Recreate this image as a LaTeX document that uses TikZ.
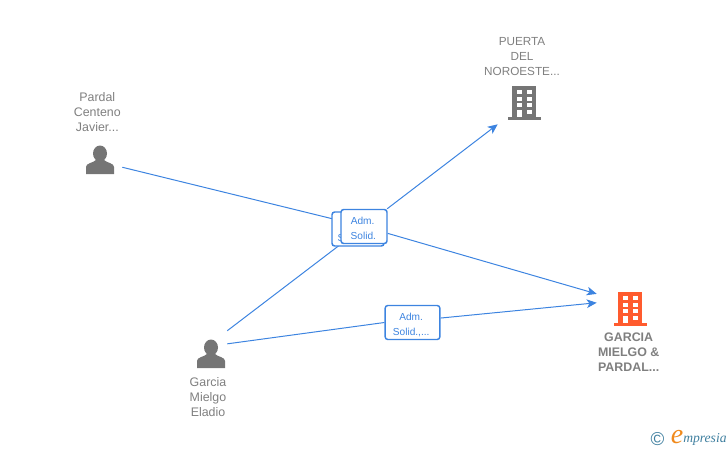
\documentclass[tikz,border=0pt]{standalone}
\usepackage{fontspec}
\setmainfont{Liberation Sans}
\newfontfamily\logofont{Liberation Serif}
\usetikzlibrary{arrows.meta, positioning}
\definecolor{linkblue}{HTML}{3D84E0}
\definecolor{labelgrey}{HTML}{7F7F7F}
\definecolor{icongrey}{HTML}{757575}
\definecolor{firmorange}{HTML}{FF5B2E}
\definecolor{logoteal}{HTML}{3F7F9F}
\definecolor{logoorange}{HTML}{F08A1D}
\pgfdeclarelayer{under}
\pgfsetlayers{under,main}
\tikzset{
  personicon/.pic={
    \fill[icongrey] (0,-6.5) ellipse (7 and 8);
    \fill[icongrey] (-14,14) -- (-14,7) .. controls (-14,3) and (-7,3) .. (-4,0) -- (4,0) .. controls (7,3) and (14,3) .. (14,7) -- (14,14) -- cycle;
  },
  towericon/.pic={
    \fill[#1] (-12,-16) rectangle (12,15);
    \fill[#1] (-16.5,14.5) rectangle (16.5,17.5);
    \foreach \rowy in {-12,-5.5,1} {
      \fill[white] (-7.5,\rowy) rectangle ++(5,4.3);
      \fill[white] (2.5,\rowy) rectangle ++(5,4.3);
    }
    \fill[white] (-7.5,7.5) rectangle (-2.5,15);
    \fill[white] (2.5,7.5) rectangle ++(5,4.3);
  }
}
\newcommand{\tagdrop}{\rule{0pt}{8.6pt}}
\begin{document}
\begin{tikzpicture}
[x=0.75pt, y=-0.75pt, >={Stealth[length=7.5pt, width=6.5pt, inset=2pt]}]
% Styles for the holder slots, captions and link labels
\tikzstyle{slot} = [rectangle, inner sep=0pt]
\tikzstyle{caption} = [text=labelgrey, align=center, inner sep=0pt, font=\fontsize{9.3}{11.25}\selectfont]
\tikzstyle{tag} = [draw=linkblue, fill=white, rounded corners=2pt, line width=1.1pt, text=linkblue, align=center, inner sep=0pt, minimum height=25.5pt, font=\fontsize{7.6}{11.25}\selectfont]
\tikzstyle{link} = [draw=linkblue, line width=0.75pt]

\useasboundingbox (0,0) rectangle (728,450);

% Holders and firms
\node [slot, minimum width=33pt, minimum height=21pt] (pardal) at (100,160) {};
\node [slot, minimum width=24pt, minimum height=34.5pt] (eladio) at (211,354) {};
\node [slot, minimum width=39pt, minimum height=33pt] (puerta) at (524,102) {};
\node [slot, minimum width=49.5pt, minimum height=27pt] (garcia) at (630,308) {};

\pic at (pardal) {personicon};
\pic at (eladio) {personicon};
\pic at (puerta) {towericon=icongrey};
\pic at (garcia) {towericon=firmorange};

% Captions
\node [caption, above=10.5pt of pardal, xshift=-2pt] (pardallabel) {Pardal\\Centeno\\Javier...};
\node [caption, anchor=north] (eladiolabel) at (208,377.5) {Garcia\\Mielgo\\Eladio};
\node [caption, font=\fontsize{8.8}{11.25}\selectfont, above=3pt of puerta, xshift=-1.5pt] (puertalabel) {PUERTA\\DEL\\NOROESTE...};
\node [caption, font=\fontsize{9.3}{11.25}\selectfont\bfseries, below=5pt of garcia, xshift=-1pt] (garcialabel) {GARCIA\\MIELGO \&\\PARDAL...};

% Link labels
\node [tag, minimum width=39pt] (tagback) at (358,229) {\tagdrop Adm.\\Solid.,...\hspace*{3pt}};
\node [tag, minimum width=34.5pt] (tagfront) at (364,226.5) {\tagdrop Adm.\hspace*{2pt}\\Solid.\hspace*{1pt}};
\node [tag, minimum width=41pt] (tagfirm) at (412.5,322.5) {\tagdrop Adm.\hspace*{2pt}\\Solid.,...\hspace*{2pt}};

% Links, kept under the labels
\begin{pgfonlayer}{under}
\draw[link] (pardal.-18) -- (tagfront);
\draw[link,->] (tagfront) -- (garcia.157);
\draw[link] (eladio.north east) -- (tagfront);
\draw[link,->] (tagfront) -- (puerta.south west);
\draw[link] (eladio.32) -- (tagfirm.west);
\draw[link,->] (tagfirm.9) -- (garcia.171);
\end{pgfonlayer}

% Logo
\node [text=logoteal, inner sep=0pt, font=\fontsize{14}{14}\selectfont] (logoc) at (657.5,439) {\textcopyright};
\node [text=logoorange, inner sep=0pt, font=\logofont\itshape\fontsize{21}{21}\selectfont] (logoe) at (677,437) {e};
\node [text=logoteal, inner sep=0pt, anchor=west, font=\logofont\itshape\fontsize{10.2}{10}\selectfont] (logotext) at (683,439) {mpresia};
\end{tikzpicture}
\end{document}
